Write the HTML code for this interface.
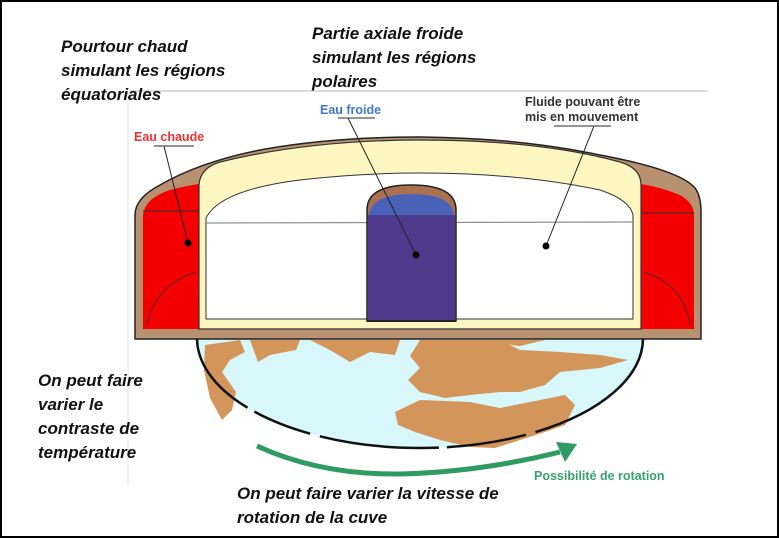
<!DOCTYPE html>
<html><head><meta charset="utf-8"><style>
html,body{margin:0;padding:0;background:#fff}
svg{display:block}
.t{font-family:"Liberation Sans",sans-serif;font-weight:bold;font-style:italic;font-size:17px;fill:#111}
.s{font-family:"Liberation Sans",sans-serif;font-weight:bold;font-size:12.5px}
</style></head><body>
<svg width="779" height="538" viewBox="0 0 779 538" xmlns="http://www.w3.org/2000/svg">
<rect x="1" y="1" width="777" height="536" fill="#fff" stroke="#000" stroke-width="2"/>
<line x1="130" y1="91" x2="708" y2="91" stroke="#ccd2d2" stroke-width="1.5"/>
<line x1="128" y1="91" x2="128" y2="486" stroke="#e6e6e6" stroke-width="1"/>

<!-- globe -->
<path d="M197 338 L643 338 A223 110 0 0 1 420 448 A223 110 0 0 1 197 338 Z" fill="#d8f7fa"/>
<g fill="#d4955a">
<path d="M205 345 L240 340 L245 352 L230 360 L222 372 L236 392 L232 410 L222 420 L210 398 L204 370 Z"/>
<path d="M250 340 L300 340 L296 350 L270 355 L258 362 Z"/>
<path d="M310 340 L400 340 L395 355 L370 352 L350 362 L330 350 Z"/>
<path d="M420 340 L500 340 L520 350 L560 352 L600 355 L628 360 L600 368 L560 372 L545 385 L520 392 L500 392 L470 395 L445 398 L420 392 L408 380 L420 368 L410 356 Z"/>
<path d="M470 340 L545 340 L520 346 Z"/>
<path d="M395 412 L420 400 L470 402 L500 408 L540 400 L565 395 L575 405 L565 425 L545 432 L520 440 L495 448 L470 447 L440 440 L415 432 L398 425 Z"/>
</g>
<path d="M197 338 A223 110 0 0 0 643 338" fill="none" stroke="#111" stroke-width="2.5" stroke-dasharray="90 8 60 10 120 8 80 10 200"/>

<!-- outer brown vessel -->
<path d="M135 339 L135 215 Q135 198 160 185 Q200 162 260 150 Q330 137 420 137 Q520 138 600 155 Q680 170 695 188 Q701 196 701 212 L701 339 Z" fill="#b89270" stroke="#222" stroke-width="1.5"/>
<!-- red regions -->
<path d="M143 329 L143 215 Q145 198 170 190 Q185 186 199 184 L199 329 Z" fill="#f40000"/>
<path d="M641 329 L641 184 Q660 187 680 195 Q694 203 694 215 L694 329 Z" fill="#f40000"/>
<line x1="143" y1="211" x2="199" y2="211" stroke="#333" stroke-width="1"/>
<line x1="641" y1="213" x2="694" y2="213" stroke="#333" stroke-width="1"/>
<path d="M147 325 Q155 285 196 272" fill="none" stroke="#333" stroke-width="0.8"/>
<path d="M690 325 Q684 285 644 272" fill="none" stroke="#333" stroke-width="0.8"/>
<!-- cream frame -->
<path d="M199 329 L199 185 Q200 168 220 162 Q310 140 420 140 Q540 140 620 162 Q641 168 641 185 L641 329 Z" fill="#fdf6c0" stroke="#333" stroke-width="1.2"/>
<!-- white interior -->
<path d="M206 319 L206 218 Q220 190 300 180 Q360 173 420 173 Q520 173 600 190 Q630 200 633 215 L633 319 Z" fill="#fff" stroke="#333" stroke-width="1"/>
<line x1="206" y1="223" x2="633" y2="222" stroke="#777" stroke-width="1"/>
<!-- cold column -->
<path d="M367 321 L367 210 Q367 185 411 185 Q456 185 456 210 L456 321 Z" fill="#a9714f" stroke="#222" stroke-width="1.5"/>
<path d="M369 215 Q372 194 411 194 Q452 194 454 215 Z" fill="#4a63b8"/>
<rect x="368" y="215" width="87" height="105" fill="#4e3b8e"/>
<line x1="367" y1="321" x2="456" y2="321" stroke="#222" stroke-width="2"/>

<!-- leader lines & dots -->
<g stroke="#222" stroke-width="1" fill="none">
<line x1="164" y1="146" x2="188" y2="243"/>
<line x1="348" y1="118" x2="416" y2="255"/>
<line x1="594" y1="126" x2="546" y2="246"/>
</g>
<g stroke="#555" stroke-width="1.2">
<line x1="154" y1="146" x2="194" y2="146"/>
<line x1="338" y1="118" x2="375" y2="118"/>
<line x1="554" y1="126" x2="611" y2="126"/>
</g>
<circle cx="188" cy="243" r="3.5" fill="#000"/>
<circle cx="416" cy="255" r="3.5" fill="#000"/>
<circle cx="546" cy="246" r="3.5" fill="#000"/>

<!-- green arrow -->
<path d="M257 446 Q320 475 400 474 Q480 472 560 452" fill="none" stroke="#2f9a62" stroke-width="5"/>
<path d="M556 442 L577 444 L565 462 Z" fill="#2f9a62"/>

<!-- texts -->
<text class="t" x="61" y="52">Pourtour chaud</text>
<text class="t" x="61" y="76">simulant les régions</text>
<text class="t" x="61" y="100">équatoriales</text>
<text class="t" x="312" y="39">Partie axiale froide</text>
<text class="t" x="312" y="63">simulant les régions</text>
<text class="t" x="312" y="87">polaires</text>
<text class="t" x="38" y="386">On peut faire</text>
<text class="t" x="38" y="410">varier le</text>
<text class="t" x="38" y="434">contraste de</text>
<text class="t" x="38" y="458">température</text>
<text class="t" x="237" y="499">On peut faire varier la vitesse de</text>
<text class="t" x="237" y="523">rotation de la cuve</text>
<text class="s" x="134" y="141" fill="#f03030">Eau chaude</text>
<text class="s" x="320" y="114" fill="#3f78d0">Eau froide</text>
<text class="s" x="525" y="106" fill="#333">Fluide pouvant être</text>
<text class="s" x="525" y="121" fill="#333">mis en mouvement</text>
<text class="s" x="534" y="480" fill="#3aa070">Possibilité de rotation</text>
</svg>
</body></html>
